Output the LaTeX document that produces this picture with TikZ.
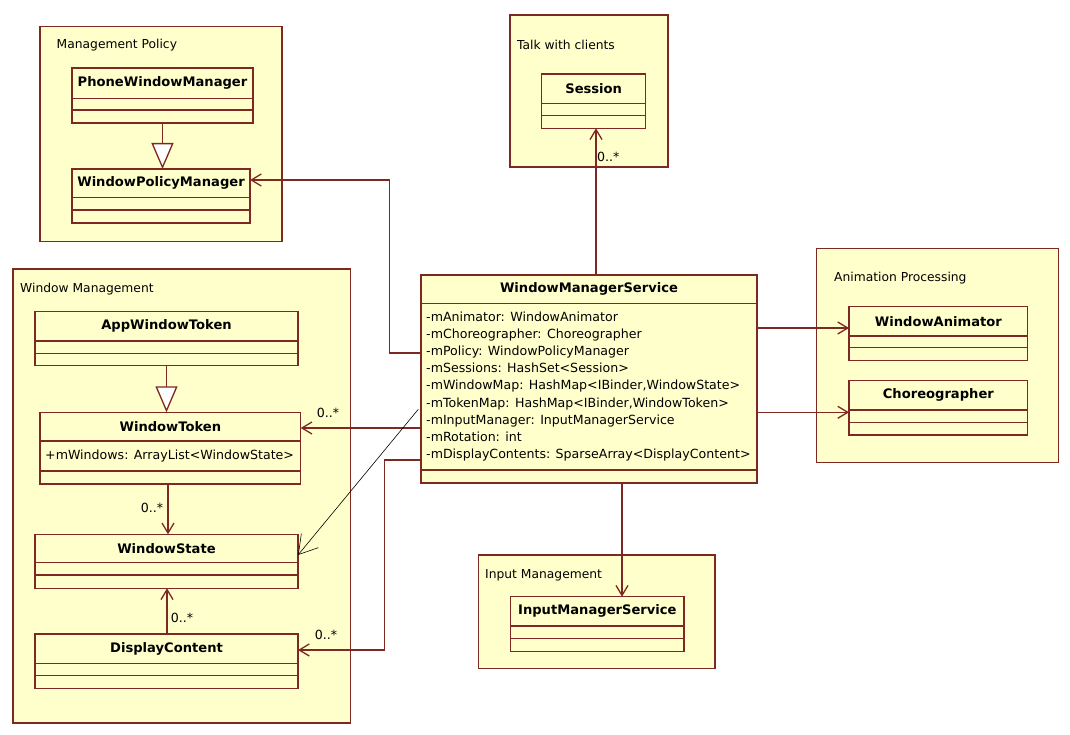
\documentclass[tikz,border=0pt]{standalone}
\usepackage{fontspec}
\setmainfont{DejaVu Sans}
\usetikzlibrary{arrows.meta}
\definecolor{umlfill}{RGB}{255,255,204}
\definecolor{umlline}{RGB}{125,40,35}
\tikzset{
  pkg/.style={draw=umlline, fill=umlfill, line width=1.3pt, inner sep=0pt, outer sep=0pt, anchor=north west},
  cls/.style={draw=umlline, fill=umlfill, line width=1.3pt, inner sep=0pt, outer sep=0pt},
  divider/.style={draw=umlline, line width=1.3pt},
  ctitle/.style={font=\fontsize{13.1}{15}\selectfont\bfseries, inner sep=0pt},
  plabel/.style={font=\fontsize{12.3}{14}\selectfont, inner sep=0pt, anchor=west},
  mult/.style={font=\fontsize{12.6}{14}\selectfont, inner sep=0pt},
  assoc/.style={draw=umlline, line width=1.3pt, -{Straight Barb[length=10pt,width=12pt]}},
  gen/.style={draw=umlline, line width=1.3pt, -{Triangle[length=26pt,width=22pt,fill=white]}},
  handarrow/.style={draw=black, line width=0.6pt, -{Straight Barb[length=18pt,width=22pt]}}
}
\newcommand\umlclass[8]{%
  \node[cls, minimum width={(#4-#2)*1pt}, minimum height={(#5-#3)*1pt}, anchor=north west] (#1) at (#2,#3) {};
  \draw[divider] (#2,#6) -- (#4,#6) (#2,#7) -- (#4,#7);
  \node[ctitle] (#1-t) at ({(#2+#4)/2},{(#3+#6)/2}) {#8};
}
\newcommand\umlpkg[6]{%
  \node[pkg, minimum width={(#4-#2)*1pt}, minimum height={(#5-#3)*1pt}] (#1) at (#2,#3) {};
}
\begin{document}
\begin{tikzpicture}[x=1pt,y=-1pt]
\fill[white] (0,0) rectangle (1070,735);
\useasboundingbox (0,0) rectangle (1070,735);

% packages
\umlpkg{pMP}{40}{26.7}{282}{241.7}{}
\node[plabel] (lMP) at (56.5,45) {Management Policy};
\umlpkg{pTC}{510}{15}{668}{167}{}
\node[plabel] (lTC) at (517,45) {Talk with clients};
\umlpkg{pWM}{13}{269}{350.7}{723}{}
\node[plabel] (lWM) at (20,289) {Window Management};
\umlpkg{pAP}{816.7}{248.3}{1058.3}{462.7}{}
\node[plabel] (lAP) at (834,278.3) {Animation Processing};
\umlpkg{pIM}{478.3}{555}{715}{668.3}{}
\node[plabel] (lIM) at (485,575) {Input Management};

% classes
\umlclass{pwm}{72}{68}{253}{123}{98.3}{110}{PhoneWindowManager}
\umlclass{wpm}{72}{169}{250}{223}{197.7}{210}{WindowPolicyManager}
\umlclass{sess}{541.7}{74}{645.7}{128.3}{103.3}{115.7}{Session}
\umlclass{wms}{421}{275}{757}{483}{303.3}{470}{WindowManagerService}
\umlclass{wa}{849}{306.7}{1027.7}{360.7}{336}{347.7}{WindowAnimator}
\umlclass{chor}{849}{380.7}{1027.7}{435}{410}{422.3}{Choreographer}
\umlclass{ims}{510.7}{596.7}{684}{651.7}{626}{638.3}{InputManagerService}
\umlclass{awt}{35}{311.7}{298}{365.7}{341}{353.3}{AppWindowToken}
\umlclass{wt}{40}{412.3}{300.7}{484}{441}{471}{WindowToken}
\umlclass{ws}{35}{534.3}{298}{588.3}{562.7}{575}{WindowState}
\umlclass{dc}{35}{634}{298}{688.3}{663.3}{675.7}{DisplayContent}

% attributes
\node[font=\fontsize{12.6}{17.125}\selectfont, align=left, inner sep=0pt, anchor=west] (wmsattr) at (426,386.5)
{-mAnimator: WindowAnimator\\
-mChoreographer: Choreographer\\
-mPolicy: WindowPolicyManager\\
-mSessions: HashSet<Session>\\
-mWindowMap: HashMap<IBinder,WindowState>\\
-mTokenMap: HashMap<IBinder,WindowToken>\\
-mInputManager: InputManagerService\\
-mRotation: int\\
-mDisplayContents: SparseArray<DisplayContent>};
\node[font=\fontsize{12.6}{14}\selectfont, inner sep=0pt, anchor=west] (wtattr) at (45,456)
{+mWindows: ArrayList<WindowState>};

% helper coordinates
\coordinate (yPol) at (0,353);
\coordinate (kPol) at (389.3,180);
\coordinate (xSess) at (596,0);
\coordinate (yWA) at (0,328);
\coordinate (yCh) at (0,412.3);
\coordinate (yWT) at (0,428);
\coordinate (yDC0) at (0,460);
\coordinate (kDC) at (384.3,650);
\coordinate (xIM) at (622,0);
\coordinate (xWT) at (168,0);
\coordinate (xDC) at (167,0);
\coordinate (thinS) at (418.3,409.3);
\coordinate (yTip) at (0,555);

% connectors
\draw[gen] (pwm.south) -- (wpm.north -| pwm.south);
\draw[gen] (awt.south) -- (wt.north -| awt.south);
\draw[assoc] (wms.west |- yPol) -| (kPol) -- (wpm.east |- kPol);
\draw[assoc] (wms.north -| xSess) -- (sess.south -| xSess);
\draw[assoc] (wms.east |- yWA) -- (wa.west |- yWA);
\draw[assoc] (wms.east |- yCh) -- (chor.west |- yCh);
\draw[assoc] (wms.west |- yWT) -- (wt.east |- yWT);
\draw[assoc] (wms.west |- yDC0) -| (kDC) -- (dc.east |- kDC);
\draw[assoc] (wms.south -| xIM) -- (ims.north -| xIM);
\draw[assoc] (wt.south -| xWT) -- (ws.north -| xWT);
\draw[assoc] (dc.north -| xDC) -- (ws.south -| xDC);
\draw[handarrow] (thinS) -- (ws.east |- yTip);

% multiplicities
\node[mult, anchor=west] (mSess) at (597,157) {0..*};
\node[mult] (mWT) at (328,413) {0..*};
\node[mult] (mWS) at (152,508) {0..*};
\node[mult] (mDCWS) at (182,618) {0..*};
\node[mult] (mDC) at (326,635) {0..*};
\end{tikzpicture}
\end{document}
